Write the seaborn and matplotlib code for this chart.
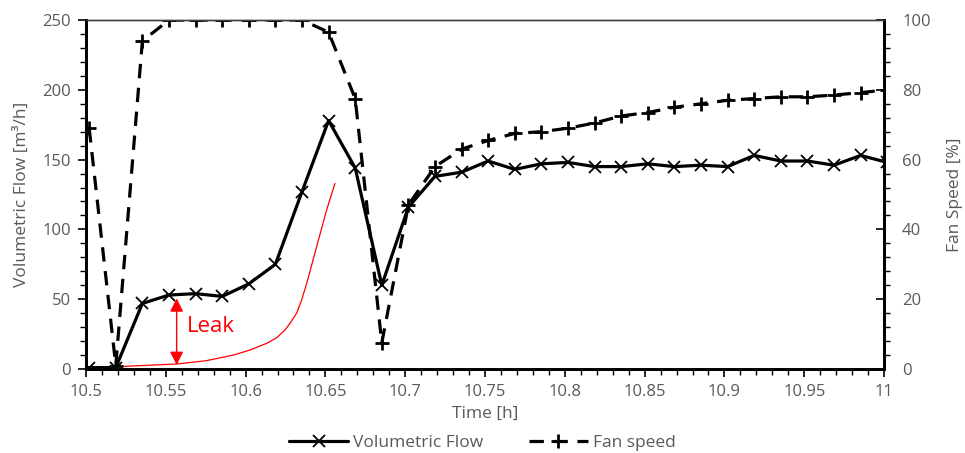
import matplotlib
matplotlib.use('Agg')
import matplotlib.pyplot as plt
from matplotlib.lines import Line2D
from matplotlib.ticker import MultipleLocator, FormatStrFormatter
import numpy as np
import pandas as pd
import seaborn as sns

# sample times (one per minute) [h]
time_h = [10.502 + k / 60 for k in range(31)]

# volumetric flow [m3/h]
flow = [1, 1, 47, 53, 54, 52, 61, 75, 127, 178, 144,
        60, 116, 138, 141, 149, 143, 147, 148, 145, 145,
        147, 145, 146, 145, 153, 149, 149, 146, 153, 148]

# fan speed [%]
fan_speed = [69, 1, 94, 100, 100, 100, 100, 100, 100, 96.5, 77.5,
             7.5, 47, 58, 63, 65.5, 67.5, 68, 69, 70.5, 72.5,
             73.5, 75, 76, 77, 77.5, 78, 78, 78.5, 79.2, 80]

# hand-drawn leak reference curve
leak_t = [10.5182, 10.5568, 10.5756, 10.5923, 10.6028, 10.6132, 10.6195,
          10.6247, 10.6278, 10.6320, 10.6351, 10.6383, 10.6445, 10.6508, 10.6560]
leak_flow = [1.6, 3.6, 6.0, 10, 13.6, 18.4, 22.4, 28, 32.7, 40, 49.4, 61.4, 87.6, 114, 133]

# leak arrow
arrow_t = 10.5568
arrow_top = 50.6
arrow_bottom = 2.9

df = pd.DataFrame({'time': time_h, 'flow': flow, 'fan': fan_speed})

sns.set_theme(style='ticks')
plt.rcParams['font.family'] = ['Open Sans', 'DejaVu Sans']
gray = '#595959'

fig = plt.figure(figsize=(9.65, 4.53), dpi=100)
ax = fig.add_axes([0.0891, 0.1854, 0.8270, 0.7704])
ax2 = ax.twinx()

sns.lineplot(data=df, x='time', y='flow', ax=ax, color='black', linewidth=2.3,
             marker='x', markersize=9, markeredgewidth=1.3, markeredgecolor='black')
sns.lineplot(data=df, x='time', y='fan', ax=ax2, color='black', linewidth=2.3,
             marker='+', markersize=10, markeredgewidth=2, markeredgecolor='black',
             linestyle='--')
ax2.lines[-1].set_dashes([4.5, 3])

sns.lineplot(x=leak_t, y=leak_flow, ax=ax, color='red', linewidth=0.9)
ax.annotate('', xy=(arrow_t, arrow_bottom), xytext=(arrow_t, arrow_top),
            arrowprops=dict(arrowstyle='<|-|>', color='red', lw=1.0,
                            mutation_scale=20, shrinkA=0, shrinkB=0))
ax.text(10.5631, 30.4, 'Leak', color='red', fontsize=16, va='center', ha='left')

ax.set_xlim(10.5, 11)
ax.set_ylim(0, 250)
ax2.set_ylim(0, 100)

ax.xaxis.set_major_locator(MultipleLocator(0.05))
ax.xaxis.set_minor_locator(MultipleLocator(0.01))
ax.xaxis.set_major_formatter(FormatStrFormatter('%g'))
ax.yaxis.set_major_locator(MultipleLocator(50))
ax.yaxis.set_minor_locator(MultipleLocator(10))
ax2.yaxis.set_major_locator(MultipleLocator(20))
ax2.yaxis.set_minor_locator(MultipleLocator(4))

ax.set_xlabel('Time [h]', color=gray, fontsize=12.5, labelpad=4)
ax.set_ylabel('Volumetric Flow [m³/h]', color=gray, fontsize=12.5, labelpad=9)
ax2.set_ylabel('Fan Speed [%]', color=gray, fontsize=12.5, labelpad=12)

for a in (ax, ax2):
    a.tick_params(which='major', length=6, width=1.2, color='black', labelcolor=gray,
                  labelsize=12, pad=5)
    a.tick_params(which='minor', length=4, width=1.0, color='black')
    for side in ('left', 'bottom', 'right'):
        a.spines[side].set_linewidth(2)
        a.spines[side].set_color('black')
    a.spines['top'].set_linewidth(1)
    a.spines['top'].set_color('#404040')
# right axis: major ticks point inward, minor ticks outward
ax2.tick_params(axis='y', which='major', direction='in', pad=13)

handles = [
    Line2D([], [], color='black', lw=2.3, marker='x', markersize=9, markeredgewidth=1.3),
    Line2D([], [], color='black', lw=2.3, marker='+', markersize=10, markeredgewidth=2,
           dashes=[4.5, 3]),
]
fig.legend(handles, ['Volumetric Flow', 'Fan speed'], loc='lower center',
           bbox_to_anchor=(0.5, -0.03), ncol=2, frameon=False, fontsize=12.5,
           labelcolor=gray, handlelength=3.4, columnspacing=2.6, handletextpad=0.3)

fig.savefig('out.png', dpi=100)
